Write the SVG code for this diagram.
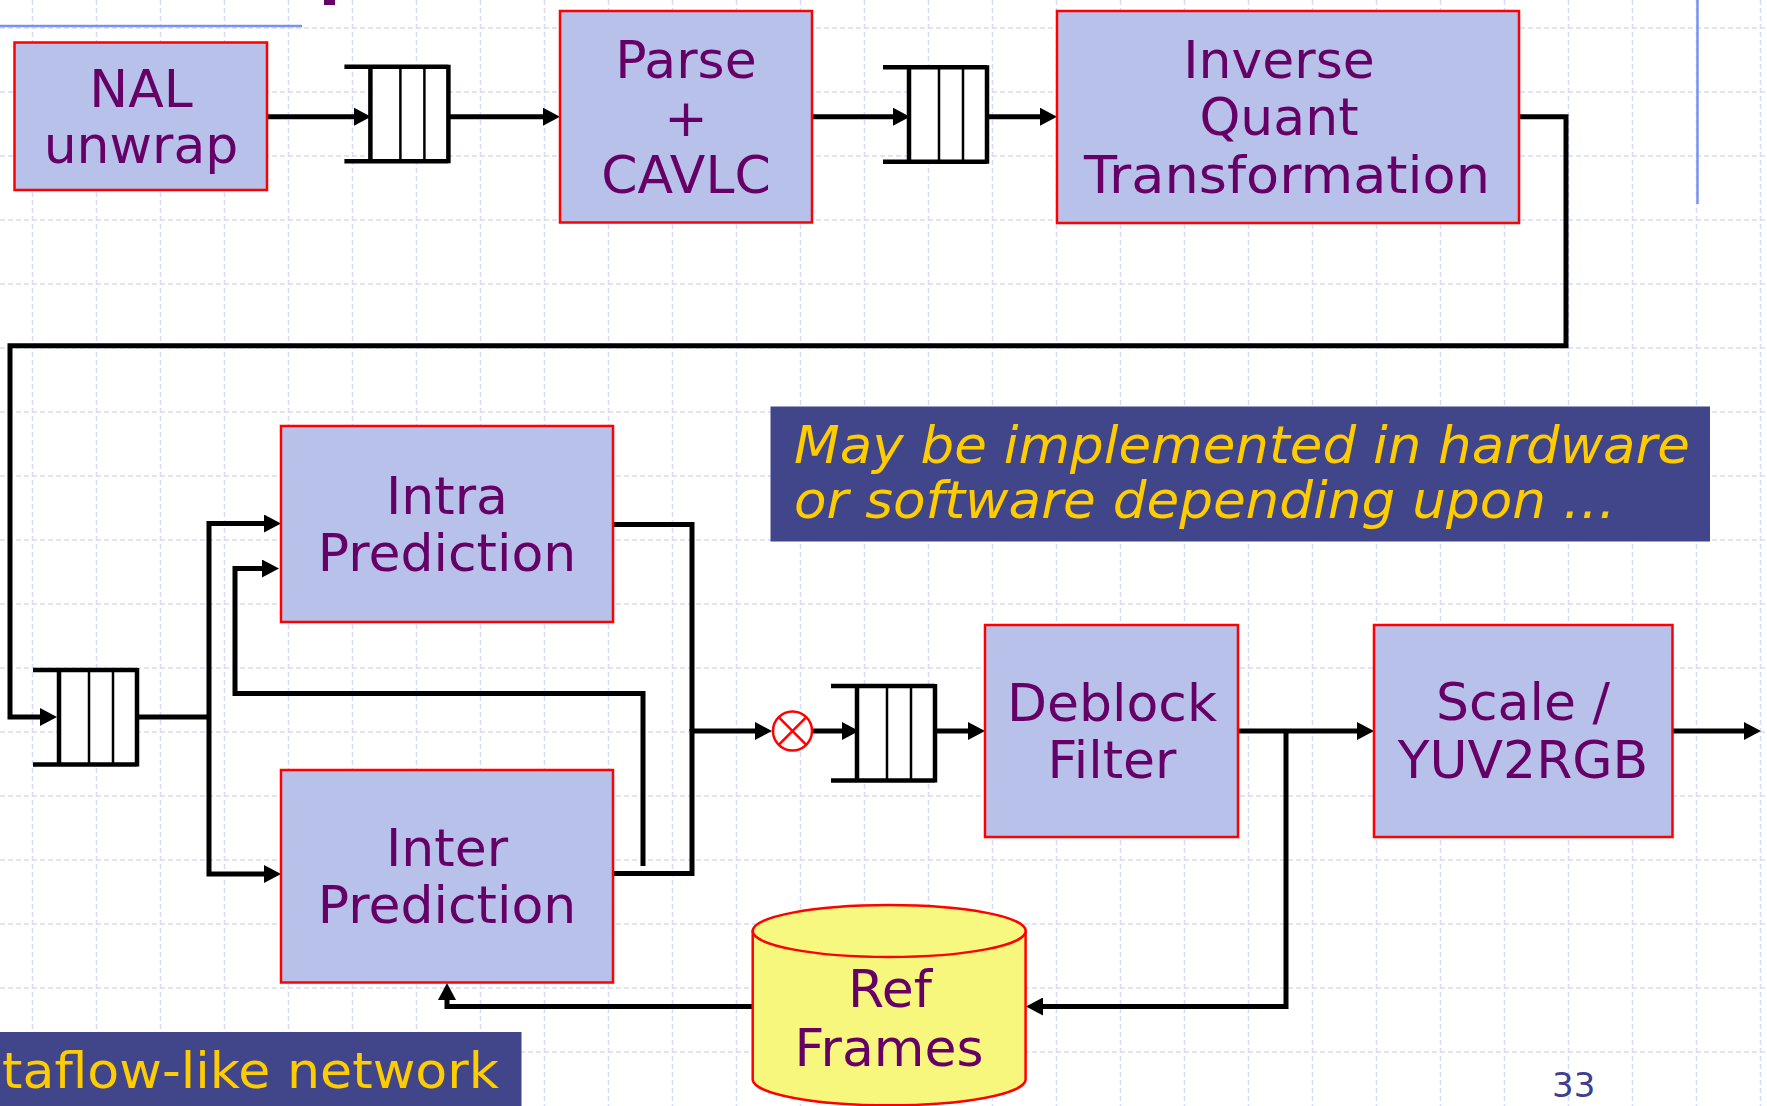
<svg xmlns="http://www.w3.org/2000/svg" xmlns:xlink="http://www.w3.org/1999/xlink" width="1767" height="1106" viewBox="0 0 1767 1106">
  <style>
    .grid { fill:none; stroke:#d6dcf8; stroke-width:1.5; stroke-dasharray:5 3; }
    .box { fill:#b8c1ea; stroke:#ff0000; stroke-width:2.5; }
    .lbl { font-family:"DejaVu Sans", Verdana, sans-serif; font-size:52px; fill:#660066; text-anchor:middle; }
    .wire { fill:none; stroke:#000; stroke-width:5; stroke-linejoin:miter; stroke-linecap:butt; }
    .arr { marker-end:url(#ah); }
    .note { fill:#414589; }
    .noteText { font-family:"DejaVu Sans", Verdana, sans-serif; font-size:51px; font-style:italic; fill:#ffcc00; }
    .fifoEdge { stroke:#000; stroke-width:4.5; fill:none; }
    .fifoCell { stroke:#000; stroke-width:2.5; fill:none; }
  </style>
  <defs>
    <marker id="ah" markerUnits="userSpaceOnUse" markerWidth="18" markerHeight="18" viewBox="0 0 18 18" refX="3" refY="9" orient="auto">
      <path d="M0,0 L17,9 L0,18 Z" fill="#000"/>
    </marker>
    <!-- FIFO queue: open on the left, four slots -->
    <g id="fifo">
      <rect x="26" y="0" width="78" height="94.5" fill="#fff"/>
      <path class="fifoEdge" d="M0,0 H104 M0,94.5 H104 M26,0 V94.5 M104,-2 V96.5"/>
      <path class="fifoCell" d="M56,0 V94.5 M80,0 V94.5"/>
    </g>
  </defs>

  <rect width="1767" height="1106" fill="#fff"/>

  <!-- background grid -->
  <g id="grid">
    <path class="grid" d="M32.5,0V1106M96.5,0V1106M160.5,0V1106M224.5,0V1106M288.5,0V1106M352.5,0V1106M416.5,0V1106M480.5,0V1106M544.5,0V1106M608.5,0V1106M672.5,0V1106M736.5,0V1106M800.5,0V1106M864.5,0V1106M928.5,0V1106M992.5,0V1106M1056.5,0V1106M1120.5,0V1106M1184.5,0V1106M1248.5,0V1106M1312.5,0V1106M1376.5,0V1106M1440.5,0V1106M1504.5,0V1106M1568.5,0V1106M1632.5,0V1106M1696.5,0V1106M1760.5,0V1106"/>
    <path class="grid" d="M0,28H1767M0,92H1767M0,156H1767M0,220H1767M0,284H1767M0,348H1767M0,412H1767M0,476H1767M0,540H1767M0,604H1767M0,668H1767M0,732H1767M0,796H1767M0,860H1767M0,924H1767M0,988H1767M0,1052H1767"/>
  </g>

  <!-- slide decorations -->
  <g id="decor">
    <path d="M0,26 H302" stroke="#7b93ee" stroke-width="2.5"/>
    <path d="M1697.5,0 V204" stroke="#7b93ee" stroke-width="2.5"/>
    <rect x="324" y="0" width="11" height="5" fill="#660066"/>
    <text x="1552" y="1097" font-family="DejaVu Sans, Verdana, sans-serif" font-size="34" fill="#3d408c">33</text>
  </g>

  <!-- connectors -->
  <g id="connectors">
    <path class="wire arr" d="M267,116.7 H357"/>
    <path class="wire arr" d="M447.8,116.7 H546"/>
    <path class="wire arr" d="M812,116.7 H896"/>
    <path class="wire arr" d="M988.8,116.7 H1043"/>
    <path class="wire arr" d="M1519,116.7 H1566 V345.7 H10 V717 H43"/>
    <path class="wire" d="M137,717 H209"/>
    <path class="wire arr" d="M209,717 V523.5 H267"/>
    <path class="wire arr" d="M209,717 V874 H267"/>
    <path class="wire arr" d="M643,866 V693.5 H235 V568.5 H265"/>
    <path class="wire" d="M613,524.5 H692 V731"/>
    <path class="wire" d="M612,873.5 H692 V729"/>
    <path class="wire arr" d="M690,731 H758" stroke-width="7"/>
    <path class="wire arr" d="M812,731 H845"/>
    <path class="wire arr" d="M935,731 H971"/>
    <path class="wire arr" d="M1238,731 H1360"/>
    <path class="wire arr" d="M1672.7,731 H1747"/>
    <path class="wire arr" d="M1286,731 V1006.5 H1040"/>
    <path class="wire arr" d="M752.7,1006.5 H447 V997"/>
  </g>

  <!-- queues -->
  <g id="fifo1"><use xlink:href="#fifo" x="344.4" y="66.7"/></g>
  <g id="fifo2"><use xlink:href="#fifo" x="883" y="67.3"/></g>
  <g id="fifo3"><use xlink:href="#fifo" x="33" y="670"/></g>
  <g id="fifo4"><use xlink:href="#fifo" x="831" y="686"/></g>

  <!-- combiner -->
  <g id="combine">
    <circle cx="792.5" cy="731" r="19.5" fill="#fff" stroke="#ff0000" stroke-width="2.5"/>
    <path d="M778.7,717.2 L806.3,744.8 M806.3,717.2 L778.7,744.8" stroke="#ff0000" stroke-width="2.5"/>
  </g>

  <g id="nal">
    <rect class="box" x="14.5" y="42.5" width="252.5" height="147.5"/>
    <text class="lbl" x="141" y="106.7">NAL</text>
    <text class="lbl" x="141" y="163.3">unwrap</text>
  </g>

  <g id="parse">
    <rect class="box" x="560" y="11" width="252" height="211.5"/>
    <text class="lbl" x="686" y="78.3">Parse</text>
    <text class="lbl" x="686" y="136">+</text>
    <text class="lbl" x="686" y="193.3">CAVLC</text>
  </g>

  <g id="iqt">
    <rect class="box" x="1057" y="11" width="462" height="212"/>
    <text class="lbl" x="1279" y="78.3">Inverse</text>
    <text class="lbl" x="1279" y="135">Quant</text>
    <text class="lbl" x="1287" y="192.7" textLength="406" lengthAdjust="spacingAndGlyphs">Transformation</text>
  </g>

  <g id="intra">
    <rect class="box" x="281" y="426" width="332" height="196"/>
    <text class="lbl" x="447" y="514">Intra</text>
    <text class="lbl" x="447" y="571">Prediction</text>
  </g>

  <g id="inter">
    <rect class="box" x="281" y="770" width="332" height="212.5"/>
    <text class="lbl" x="447" y="866">Inter</text>
    <text class="lbl" x="447" y="923">Prediction</text>
  </g>

  <g id="deblock">
    <rect class="box" x="985" y="625" width="253" height="212"/>
    <text class="lbl" x="1112" y="720.7">Deblock</text>
    <text class="lbl" x="1112" y="778.3">Filter</text>
  </g>

  <g id="scale">
    <rect class="box" x="1374" y="625" width="298.5" height="212"/>
    <text class="lbl" x="1523" y="720">Scale /</text>
    <text class="lbl" x="1523" y="778.3">YUV2RGB</text>
  </g>

  <g id="refframes">
    <path d="M752.7,931 V1080 A136.5,26 0 0 0 1025.6,1080 V931 Z" fill="#f6f77c" stroke="#ff0000" stroke-width="2.5"/>
    <ellipse cx="889.2" cy="931" rx="136.5" ry="26" fill="#f6f880" stroke="#ff0000" stroke-width="2.5"/>
    <text class="lbl" x="890" y="1007.3">Ref</text>
    <text class="lbl" x="889" y="1065.7">Frames</text>
  </g>

  <g id="noteHw">
    <rect class="note" x="770.5" y="406.5" width="939.5" height="135"/>
    <text class="noteText" x="794" y="463.3" textLength="896" lengthAdjust="spacingAndGlyphs">May be implemented in hardware</text>
    <text class="noteText" x="794" y="518.3" textLength="822" lengthAdjust="spacingAndGlyphs">or software depending upon …</text>
  </g>

  <g id="noteDataflow">
    <rect class="note" x="0" y="1032" width="521.5" height="74"/>
    <text x="2" y="1088.3" font-family="DejaVu Sans, Verdana, sans-serif" font-size="49" fill="#ffcc00" textLength="497" lengthAdjust="spacingAndGlyphs">taflow-like network</text>
  </g>
</svg>
